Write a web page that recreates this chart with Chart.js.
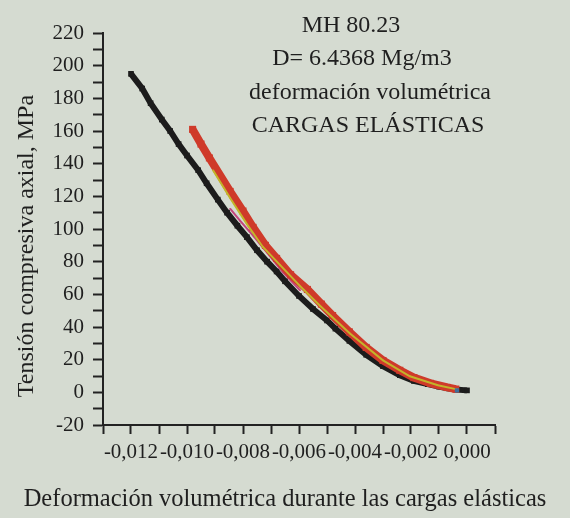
<!DOCTYPE html>
<html>
<head>
<meta charset="utf-8">
<title>MH 80.23 - deformación volumétrica</title>
<script src="https://cdn.jsdelivr.net/npm/chart.js@4.4.1/dist/chart.umd.min.js"></script>
<style>
  html, body { margin: 0; padding: 0; background: #d5dbd1; }
  #wrap { width: 570px; height: 518px; }
</style>
</head>
<body>
<div id="wrap"><canvas id="chart"></canvas></div>
<script>
// ---- Data: [deformación volumétrica, tensión MPa] ----
const serieNegra = [
  [-0.0120, 195], [-0.0116, 186], [-0.0113, 177], [-0.0109, 167], [-0.0106, 160],
  [-0.0103, 152], [-0.0100, 145], [-0.0096, 136], [-0.0093, 128], [-0.0089, 118],
  [-0.00857, 110], [-0.0082, 102], [-0.00786, 95], [-0.0075, 87], [-0.00714, 80],
  [-0.0068, 74], [-0.0065, 68], [-0.0060, 59], [-0.0055, 51], [-0.0050, 44],
  [-0.0047, 39], [-0.0042, 31.5], [-0.0036, 23], [-0.0030, 16], [-0.0024, 10.5],
  [-0.0019, 7], [-0.0014, 5], [-0.0010, 3.5], [-0.0007, 2.5], [-0.0004, 1.8], [0.0000, 1.2],
];
const serieRoja = [
  [-0.0098, 161], [-0.0095, 152], [-0.0092, 143.5], [-0.00846, 123], [-0.0080, 111],
  [-0.00764, 101], [-0.0072, 90], [-0.0068, 82], [-0.0063, 72], [-0.0057, 63],
  [-0.0052, 54], [-0.0048, 47], [-0.0042, 37], [-0.0036, 27.5], [-0.0030, 19.5],
  [-0.0024, 13.5], [-0.0019, 9], [-0.0013, 5.5], [-0.0007, 3], [-0.0004, 2],
];
const serieAmarilla = [
  [-0.00907, 136], [-0.00846, 119], [-0.00786, 103], [-0.00729, 89], [-0.00668, 78],
  [-0.00596, 65], [-0.00525, 53], [-0.00418, 36], [-0.0030, 19.6], [-0.00204, 9.8],
  [-0.00104, 4.3], [-0.00036, 1.8],
];
const serieMagenta = [
  [-0.00846, 112.5], [-0.0081, 105], [-0.00764, 96], [-0.00714, 85.6], [-0.00657, 73.4],
  [-0.00596, 62.4],
];
const serieAzul = [[-0.00036, 1.2]];

const infoLines = ["MH 80.23", "D= 6.4368 Mg/m3", "deformación volumétrica", "CARGAS ELÁSTICAS"];
const xTitle = "Deformación volumétrica durante las cargas elásticas";
const yTitle = "Tensión compresiva axial, MPa";

const INK = "#1f1f1f";
const FONT = '"Liberation Serif", "Times New Roman", serif';

const toPoints = arr => arr.map(([x, y]) => ({ x, y }));

function serie(data, color, width, radius) {
  return {
    data: toPoints(data),
    showLine: true,
    borderColor: color,
    backgroundColor: color,
    borderWidth: width,
    pointStyle: "rect",
    pointRadius: radius,
    pointBorderWidth: 0,
    tension: 0,
  };
}

// text block inside the plot + axis titles
const infoCenters = [351, 362, 370, 368];
const textPlugin = {
  id: "textPlugin",
  afterDraw(chart) {
    const ctx = chart.ctx;
    ctx.save();
    ctx.fillStyle = INK;
    ctx.textAlign = "center";
    ctx.textBaseline = "alphabetic";
    ctx.font = `24px ${FONT}`;
    infoLines.forEach((t, i) => ctx.fillText(t, infoCenters[i], 32 + i * 33.3));
    ctx.font = `24.5px ${FONT}`;
    ctx.fillText(xTitle, 285, 506);
    ctx.font = `24px ${FONT}`;
    ctx.translate(33, 246);
    ctx.rotate(-Math.PI / 2);
    ctx.fillText(yTitle, 0, 0);
    ctx.restore();
  },
};

new Chart(document.getElementById("chart"), {
  type: "scatter",
  data: {
    datasets: [
      serie(serieAzul, "#3d6f9c", 0, 3),
      serie(serieAmarilla, "#c2b52a", 2, 1),
      serie(serieRoja, "#cf3a2a", 8, 5),
      serie(serieMagenta, "#c2437c", 2, 1),
      serie(serieNegra, "#1c1c1c", 6, 4),
    ],
  },
  options: {
    responsive: true,
    maintainAspectRatio: false,
    animation: false,
    layout: { padding: { top: 33, right: 75, left: 0, bottom: 0 } },
    plugins: { legend: { display: false }, tooltip: { enabled: false } },
    scales: {
      x: {
        type: "linear",
        min: -0.013,
        max: 0.001,
        afterFit: s => { s.height = 93; },
        border: { display: true, color: "#222", width: 2 },
        grid: { drawOnChartArea: false, drawTicks: true, tickLength: 9, tickWidth: 2, color: "#222" },
        ticks: {
          stepSize: 0.001,
          autoSkip: false,
          maxRotation: 0,
          minRotation: 0,
          padding: 6,
          color: INK,
          font: { family: FONT, size: 21 },
          callback: v => {
            const k = Math.round(v * 1000);
            if (k % 2 !== 0 || k > 0) return "";
            return (k / 1000).toFixed(3).replace(".", ",");
          },
        },
      },
      y: {
        type: "linear",
        min: -20,
        max: 220,
        afterFit: s => { s.width = 103; },
        border: { display: true, color: "#222", width: 2 },
        grid: { drawOnChartArea: false, drawTicks: true, tickLength: 10, tickWidth: 2, color: "#222" },
        ticks: {
          stepSize: 10,
          autoSkip: false,
          padding: 9,
          color: INK,
          font: { family: FONT, size: 21 },
          callback: v => (Math.round(v) % 20 === 0 ? String(Math.round(v)) : ""),
        },
      },
    },
  },
  plugins: [textPlugin],
});
</script>
</body>
</html>
